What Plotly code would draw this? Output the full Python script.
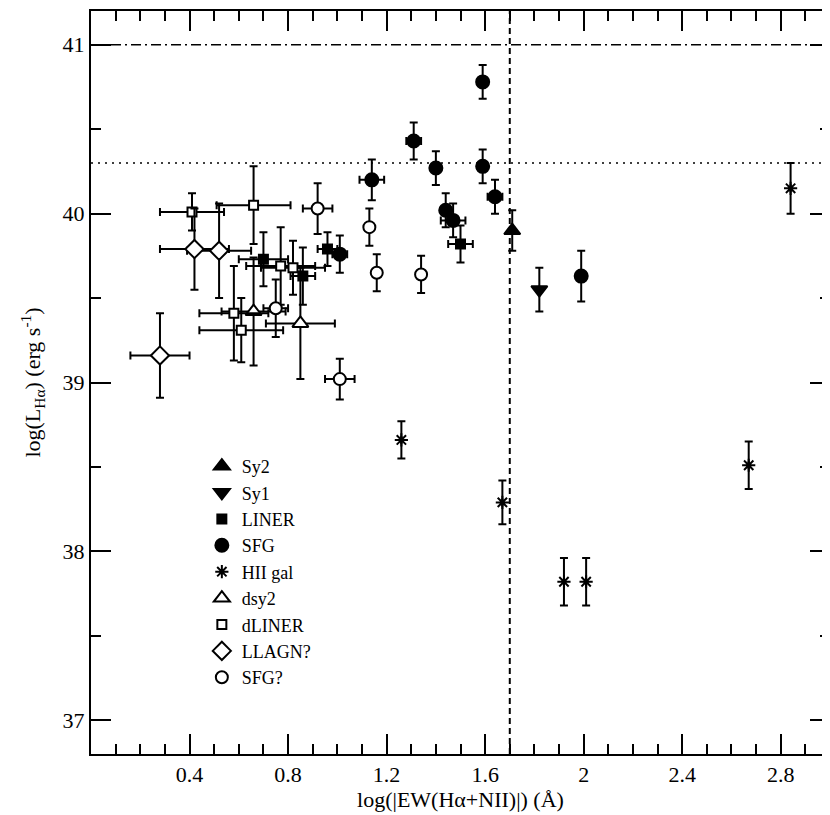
import plotly.graph_objects as go

# --- data: log EW(Ha+NII) [A], log L(Ha) [erg/s], with errors
sy2_x = [1.71]
sy2_y = [39.90]
sy2_ex = [0.0]
sy2_ey = [0.12]

sy1_x = [1.82]
sy1_y = [39.55]
sy1_ex = [0.0]
sy1_ey = [0.13]

liner_x = [0.96, 0.70, 0.86, 1.50]
liner_y = [39.79, 39.73, 39.63, 39.82]
liner_ex = [0.04, 0.10, 0.05, 0.05]
liner_ey = [0.10, 0.16, 0.17, 0.11]

sfg_x = [1.59, 1.31, 1.40, 1.59, 1.14, 1.64, 1.44, 1.47, 1.01, 1.99]
sfg_y = [40.78, 40.43, 40.27, 40.28, 40.20, 40.10, 40.02, 39.96, 39.76, 39.63]
sfg_ex = [0.0, 0.03, 0.0, 0.0, 0.05, 0.03, 0.0, 0.05, 0.03, 0.0]
sfg_ey = [0.10, 0.11, 0.10, 0.10, 0.12, 0.10, 0.10, 0.10, 0.11, 0.15]

hii_x = [1.26, 1.67, 1.92, 2.01, 2.67, 2.84]
hii_y = [38.66, 38.29, 37.82, 37.82, 38.51, 40.15]
hii_ex = [0.0, 0.0, 0.0, 0.0, 0.0, 0.0]
hii_ey = [0.11, 0.13, 0.14, 0.14, 0.14, 0.15]

dsy2_x = [0.66, 0.85]
dsy2_y = [39.42, 39.35]
dsy2_ex = [0.13, 0.14]
dsy2_ey = [0.32, 0.33]

dliner_x = [0.41, 0.66, 0.77, 0.82, 0.58, 0.61]
dliner_y = [40.01, 40.05, 39.69, 39.68, 39.41, 39.31]
dliner_ex = [0.13, 0.15, 0.14, 0.13, 0.14, 0.17]
dliner_ey = [0.11, 0.23, 0.23, 0.16, 0.28, 0.19]

llagn_x = [0.42, 0.52, 0.28]
llagn_y = [39.79, 39.78, 39.16]
llagn_ex = [0.14, 0.13, 0.12]
llagn_ey = [0.24, 0.28, 0.25]

sfgq_x = [0.92, 0.75, 1.01, 1.13, 1.16, 1.34]
sfgq_y = [40.03, 39.44, 39.02, 39.92, 39.65, 39.64]
sfgq_ex = [0.06, 0.05, 0.06, 0.0, 0.0, 0.0]
sfgq_ey = [0.15, 0.17, 0.12, 0.11, 0.11, 0.11]

# reference lines
ew_limit = 1.7
lum_dotted = 40.3
lum_dashdot = 41.0

x_ticks = [0.4, 0.8, 1.2, 1.6, 2.0, 2.4, 2.8]
x_ticktext = ["0.4", "0.8", "1.2", "1.6", "2", "2.4", "2.8"]
y_ticks = [37, 38, 39, 40, 41]

FONT = "Liberation Serif"

series = [
    ("Sy2", sy2_x, sy2_y, sy2_ex, sy2_ey, "triangle-up", 14, "black"),
    ("Sy1", sy1_x, sy1_y, sy1_ex, sy1_ey, "triangle-down", 14, "black"),
    ("LINER", liner_x, liner_y, liner_ex, liner_ey, "square", 9, "black"),
    ("SFG", sfg_x, sfg_y, sfg_ex, sfg_ey, "circle", 13, "black"),
    ("HII gal", hii_x, hii_y, hii_ex, hii_ey, "asterisk-open", 11, "black"),
    ("dsy2", dsy2_x, dsy2_y, dsy2_ex, dsy2_ey, "triangle-up", 14, "white"),
    ("dLINER", dliner_x, dliner_y, dliner_ex, dliner_ey, "square", 9, "white"),
    ("LLAGN?", llagn_x, llagn_y, llagn_ex, llagn_ey, "diamond", 14, "white"),
    ("SFG?", sfgq_x, sfgq_y, sfgq_ex, sfgq_ey, "circle", 12, "white"),
]

fig = go.Figure()
for name, xs, ys, exs, eys, sym, size, fill in series:
    fig.add_trace(go.Scatter(
        x=xs, y=ys, mode="markers", name=name,
        marker=dict(symbol=sym, size=size, color=fill,
                    line=dict(color="black", width=2)),
        error_x=dict(type="data", array=exs, visible=True, color="black", thickness=2, width=4),
        error_y=dict(type="data", array=eys, visible=True, color="black", thickness=2, width=4),
    ))

fig.add_vline(x=ew_limit, line=dict(color="black", width=2, dash="6px,4px"), layer="below")
fig.add_hline(y=lum_dotted, line=dict(color="black", width=1.5, dash="2px,5px"), layer="below")
fig.add_hline(y=lum_dashdot, line=dict(color="black", width=1.5, dash="10px,4px,2px,4px"), layer="below")

axis_common = dict(
    showgrid=False, zeroline=False, showline=True, linecolor="black", linewidth=2,
    mirror="allticks", ticks="inside", ticklen=20, tickwidth=2, tickcolor="black",
    tickfont=dict(family=FONT, size=22, color="black"), automargin=True,
)

fig.update_xaxes(
    range=[0, 3.0], tickvals=x_ticks, ticktext=x_ticktext,
    minor=dict(dtick=0.1, tick0=0, ticks="inside", ticklen=10, tickwidth=2, tickcolor="black"),
    title=dict(text="log(|EW(Hα+NII)|) (Å)", font=dict(family=FONT, size=22, color="black"), standoff=3),
    **axis_common,
)
fig.update_yaxes(
    range=[36.8, 41.2], tickvals=y_ticks,
    minor=dict(dtick=0.5, tick0=37, ticks="inside", ticklen=10, tickwidth=2, tickcolor="black"),
    title=dict(text="log(L<sub>Hα</sub>) (erg s<sup>-1</sup>)", font=dict(family=FONT, size=22, color="black"), standoff=16),
    **axis_common,
)

fig.update_layout(
    width=830, height=815,
    margin=dict(l=83, r=8, t=3, b=69, autoexpand=False),
    paper_bgcolor="white", plot_bgcolor="white",
    font=dict(family=FONT, color="black"),
    legend=dict(x=0.15, y=0.412, xanchor="left", yanchor="top",
                bgcolor="rgba(0,0,0,0)", font=dict(family=FONT, size=18, color="black"),
                tracegroupgap=0),
    showlegend=True,
)

fig.write_html("out.html")
